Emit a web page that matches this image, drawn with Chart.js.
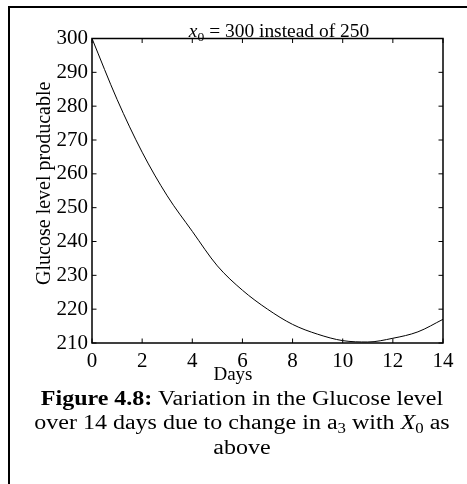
<!DOCTYPE html>
<html>
<head>
<meta charset="utf-8">
<script src="https://cdn.jsdelivr.net/npm/chart.js@4"></script>
<style>
  html, body { margin: 0; padding: 0; background: #fff; overflow: hidden; }
  body { width: 467px; height: 484px; position: relative; font-family: 'Liberation Serif', 'Times New Roman', serif; color: #000; }
  .rule { position: absolute; background: #000; }
  #ruleTop { left: 8px; top: 6px; width: 459px; height: 2px; }
  #ruleLeft { left: 8px; top: 6px; width: 2px; height: 478px; }
  #chart { position: absolute; left: 0; top: 0; }
  .lbl { position: absolute; white-space: nowrap; text-align: center; }
  #plotTitle { left: 179px; width: 200px; top: 22px; font-size: 18px; line-height: 18px; transform: scaleX(1.08); }
  #plotTitle sub, #caption sub { font-size: 70%; position: relative; top: 4px; vertical-align: baseline; }
  #xTitle { left: 183px; width: 100px; top: 364px; font-size: 19px; line-height: 19px; }
  #caption { left: 20px; width: 444px; top: 387px; font-size: 20px; line-height: 23.5px; transform: scaleX(1.2); }
</style>
</head>
<body>
<div class="rule" id="ruleTop"></div>
<div class="rule" id="ruleLeft"></div>
<canvas id="chart" width="467" height="390"></canvas>
<div class="lbl" id="plotTitle"><i>x</i><sub>0</sub> = 300 instead of 250</div>
<div class="lbl" id="xTitle">Days</div>
<div class="lbl" id="caption"><b>Figure 4.8:</b> Variation in the Glucose level<br>over 14 days due to change in a<sub>3</sub> with <i>X</i><sub>0</sub> as<br>above</div>
<script>
// glucose level, one value per day
const days = [0, 1, 2, 3, 4, 5, 6, 7, 8, 9, 10, 11, 12, 13, 14];
const glucose = [300, 282, 266.4, 253.5, 243, 232.8, 225.6, 220, 215.5, 212.6, 210.7, 210.3, 211.4, 213.3, 217];

const xRange = [0, 14];
const yRange = [210, 300];

Chart.defaults.font.family = "'Liberation Serif', 'Times New Roman', serif";
Chart.defaults.color = "#000";

// matlab style box with inward ticks
const boxTicks = {
  id: "boxTicks",
  afterDatasetsDraw(chart) {
    const { ctx, chartArea: a, scales: { x, y } } = chart;
    const len = 4.5;
    ctx.save();
    ctx.strokeStyle = "#000";
    ctx.lineWidth = 1;
    ctx.beginPath();
    x.ticks.forEach(t => {
      const px = x.getPixelForValue(t.value);
      ctx.moveTo(px, a.bottom); ctx.lineTo(px, a.bottom - len);
      ctx.moveTo(px, a.top); ctx.lineTo(px, a.top + len);
    });
    y.ticks.forEach(t => {
      const py = y.getPixelForValue(t.value);
      ctx.moveTo(a.left, py); ctx.lineTo(a.left + len, py);
      ctx.moveTo(a.right, py); ctx.lineTo(a.right - len, py);
    });
    ctx.stroke();
    ctx.lineWidth = 1.5;
    ctx.strokeRect(a.left, a.top, a.right - a.left, a.bottom - a.top);
    ctx.restore();
  }
};

new Chart(document.getElementById("chart"), {
  type: "line",
  data: {
    datasets: [{
      data: days.map((d, i) => ({ x: d, y: glucose[i] })),
      borderColor: "#000",
      borderWidth: 1,
      pointRadius: 0,
      cubicInterpolationMode: "monotone",
      fill: false
    }]
  },
  options: {
    responsive: false,
    animation: false,
    layout: { padding: { top: 38.5, right: 24, left: 0, bottom: 0 } },
    plugins: {
      legend: { display: false },
      title: { display: false },
      tooltip: { enabled: false }
    },
    scales: {
      x: {
        type: "linear",
        min: xRange[0],
        max: xRange[1],
        grid: { display: false, drawTicks: false },
        border: { display: false },
        ticks: { stepSize: 2, padding: 6, font: { size: 21 }, maxRotation: 0 },
        afterFit: s => { s.height = 47; }
      },
      y: {
        min: yRange[0],
        max: yRange[1],
        grid: { display: false, drawTicks: false },
        border: { display: false },
        ticks: { stepSize: 10, padding: 4, font: { size: 21 } },
        title: {
          display: true,
          // leading spaces nudge the rotated label a little upward, as in the original
          text: "   Glucose level producable",
          font: { size: 20 },
          padding: { top: 33, bottom: 0 }
        },
        afterFit: s => { s.width = 92; }
      }
    }
  },
  plugins: [boxTicks]
});
</script>
</body>
</html>
